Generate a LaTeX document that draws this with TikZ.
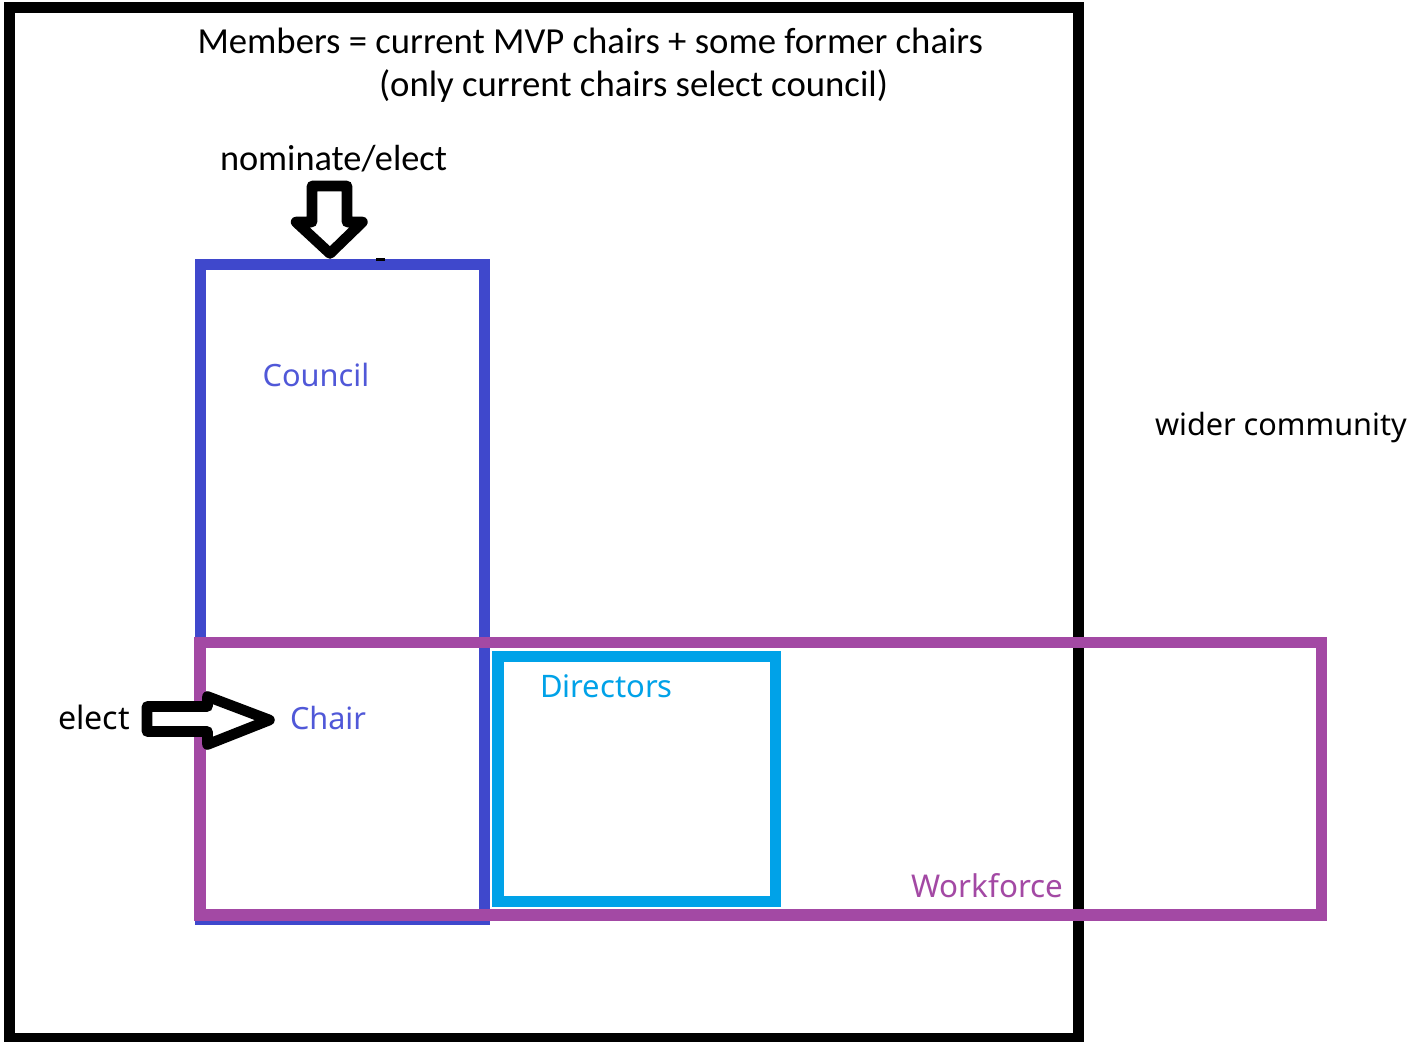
\documentclass[tikz,border=0pt]{standalone}
\usepackage{fontspec}
\setmainfont{Carlito}
\newfontfamily\calfont{Carlito}
\newfontfamily\segfont{Noto Sans}
\newcommand\fitto[2]{\resizebox{#1}{!}{#2}}
\definecolor{councilblue}{HTML}{3F48CC}
\definecolor{wfpurple}{HTML}{A349A4}
\definecolor{dircyan}{HTML}{00A2E8}
\definecolor{counciltext}{HTML}{5058D8}
\tikzset{
  lbl/.style={anchor=base west, inner sep=0pt, outer sep=0pt},
  boxshape/.style={rectangle, inner sep=0pt, outer sep=0pt, fill=none},
  blockarrow/.style={draw=black, line width=5.3pt, line join=round, fill=white},
}
\begin{document}
\begin{tikzpicture}[x=0.5pt,y=-0.5pt]
\useasboundingbox (0,0) rectangle (1417,1042);
\fill[white] (0,0) rectangle (1417,1042);
% outer frame (members)
\node[boxshape, draw=black, line width=5.5pt, minimum width=534.25pt, minimum height=515.25pt] (members) at (543.75,523.25) {};
% council
\node[boxshape, draw=councilblue, line width=5.5pt, minimum width=142.25pt, minimum height=327.25pt] (council) at (342.25,592.25) {};
% directors
\node[boxshape, draw=dircyan, line width=5.75pt, minimum width=138.75pt, minimum height=122.6pt] (directors) at (636.75,779.1) {};
% workforce
\node[boxshape, draw=wfpurple, line width=5.75pt, minimum width=560.75pt, minimum height=136.25pt] (workforce) at (760.75,778.75) {};
% small dash on council top
\draw[black, line width=1.3pt] (376,259.5) -- (385,259.5);
% nominate/elect block arrow (down)
\draw[blockarrow] (312,186) -- (347,186) -- (347,222) -- (362.5,222) -- (330,253.5) -- (296,222) -- (312,222) -- cycle;
% elect block arrow (right)
\draw[blockarrow] (147,706.5) -- (207.5,706.5) -- (207.5,696.5) -- (269.5,720) -- (207.5,744.5) -- (207.5,731.5) -- (147,731.5) -- cycle;
% texts
\node[lbl] (title1) at (197.5,53.5) {\fitto{392.75pt}{\calfont Members = current MVP chairs + some former chairs}};
\node[lbl] (title2) at (379,96.5) {\fitto{254.5pt}{\calfont (only current chairs select council)}};
\node[lbl] (nomlbl) at (220,170.5) {\fitto{113.5pt}{\calfont nominate/elect}};
\node[lbl, text=counciltext] (councillbl) at (262.7,386.5) {\fitto{53.3pt}{\segfont Council}};
\node[lbl, text=counciltext] (chairlbl) at (290,729) {\fitto{38pt}{\segfont Chair}};
\node[lbl] (electlbl) at (58.3,729) {\fitto{35.85pt}{\segfont elect}};
\node[lbl, text=dircyan] (dirlbl) at (540,697.5) {\fitto{66.35pt}{\segfont Directors}};
\node[lbl, text=wfpurple] (wflbl) at (911,897) {\fitto{76pt}{\segfont Workforce}};
\node[lbl] (widerlbl) at (1155,436) {\fitto{125.85pt}{\segfont wider community}};
\end{tikzpicture}
\end{document}
